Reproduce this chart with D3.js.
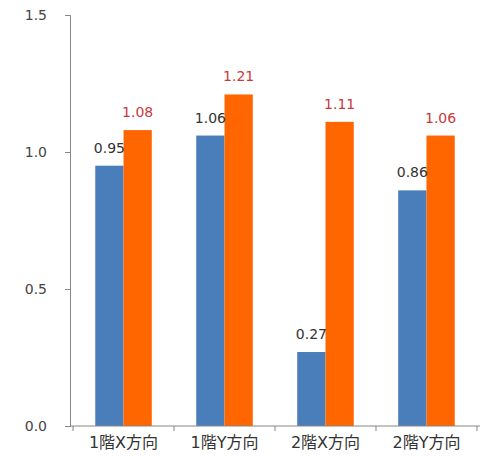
<!DOCTYPE html>
<html>
<head>
<meta charset="utf-8">
<script src="https://cdn.jsdelivr.net/npm/d3@7"></script>
<style>
  body { margin: 0; background: #fff; }
  text { font-family: "DejaVu Sans", "Noto Sans CJK JP", sans-serif; }
</style>
</head>
<body>
<div id="chart"></div>
<script>
// categories and the two series
const categories = ["1階X方向", "1階Y方向", "2階X方向", "2階Y方向"];
const seriesA = [0.95, 1.06, 0.27, 0.86];
const seriesB = [1.08, 1.21, 1.11, 1.06];
const yTicks = [0, 0.5, 1.0, 1.5];

const width = 488, height = 456;
const margin = {top: 15, right: 8, bottom: 30, left: 70};

const colors = ["#4a7ebb", "#ff6600"];
const labelColors = ["#333", "#c83a3a"];

const svg = d3.select("#chart").append("svg")
    .attr("width", width)
    .attr("height", height);

const x0 = d3.scaleBand()
    .domain(categories)
    .range([margin.left, width - margin.right])
    .paddingInner(0.44)
    .paddingOuter(0.25);

const x1 = d3.scaleBand()
    .domain([0, 1])
    .range([0, x0.bandwidth()]);

const y = d3.scaleLinear()
    .domain([0, 1.5])
    .range([height - margin.bottom, margin.top]);

const rows = categories.map((c, i) => ({cat: c, vals: [seriesA[i], seriesB[i]]}));

// bars
const groups = svg.append("g")
  .selectAll("g")
  .data(rows)
  .join("g")
    .attr("transform", d => `translate(${x0(d.cat)},0)`);

groups.selectAll("rect")
  .data(d => d.vals.map((v, k) => ({k, v})))
  .join("rect")
    .attr("x", d => x1(d.k))
    .attr("y", d => y(d.v))
    .attr("width", x1.bandwidth())
    .attr("height", d => y(0) - y(d.v))
    .attr("fill", d => colors[d.k]);

groups.selectAll("text")
  .data(d => d.vals.map((v, k) => ({k, v})))
  .join("text")
    .attr("x", d => x1(d.k) + x1.bandwidth() / 2)
    .attr("y", d => y(d.v) - 13)
    .attr("text-anchor", "middle")
    .attr("font-size", 14)
    .attr("fill", d => labelColors[d.k])
    .text(d => d.v.toFixed(2));

// y axis
const yAxis = svg.append("g")
    .attr("transform", `translate(${margin.left},0)`)
    .call(d3.axisLeft(y).tickValues(yTicks).tickFormat(d3.format(".1f")).tickSize(5).tickPadding(18));
yAxis.select(".domain").attr("stroke", "#868686");
yAxis.selectAll(".tick line").attr("stroke", "#868686");
yAxis.selectAll("text").attr("font-size", 14).attr("fill", "#444");

// x axis with tick marks between categories
const xAxis = svg.append("g")
    .attr("transform", `translate(0,${y(0)})`);
xAxis.append("line")
    .attr("x1", margin.left).attr("x2", width - margin.right)
    .attr("stroke", "#868686");
const step = x0.step();
const bounds = categories.map(c => x0(c) - x0.paddingInner() * step / 2)
  .concat([x0(categories[categories.length - 1]) + x0.bandwidth() + x0.paddingInner() * step / 2]);
xAxis.selectAll(".tk")
  .data(bounds)
  .join("line")
    .attr("x1", d => d).attr("x2", d => d)
    .attr("y1", 0).attr("y2", 5)
    .attr("stroke", "#868686");
xAxis.selectAll(".lbl")
  .data(categories)
  .join("text")
    .attr("x", d => x0(d) + x0.bandwidth() / 2)
    .attr("y", 22)
    .attr("text-anchor", "middle")
    .attr("font-size", 16)
    .attr("fill", "#333")
    .text(d => d);
</script>
</body>
</html>
